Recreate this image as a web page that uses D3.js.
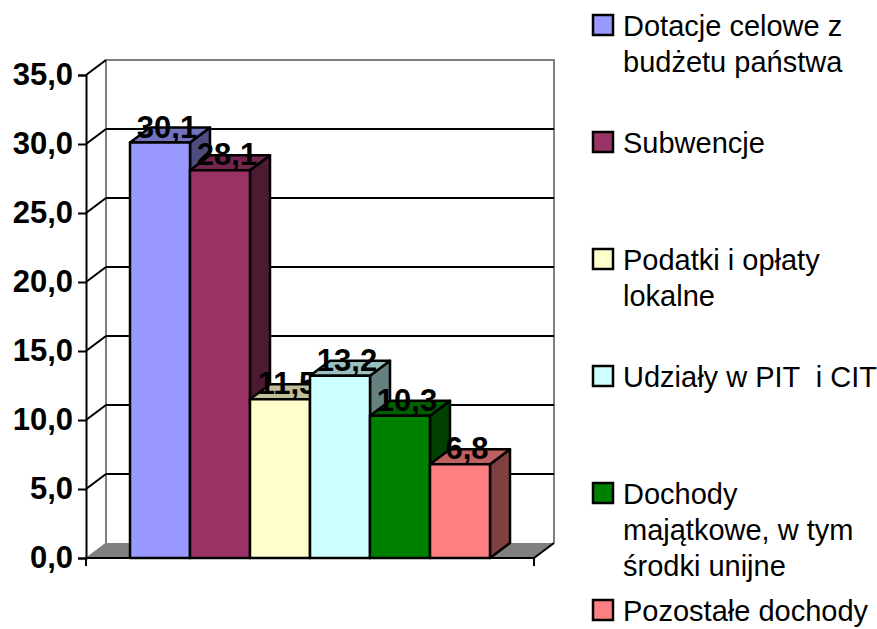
<!DOCTYPE html>
<html>
<head>
<meta charset="utf-8">
<script src="https://cdn.jsdelivr.net/npm/d3@7"></script>
<style>
  body { margin: 0; background: #fff; }
  svg { display: block; font-family: "Liberation Sans", Arial, sans-serif; }
</style>
</head>
<body>
<div id="chart"></div>
<script>
// Data
const categories = [
    "Dotacje celowe z\nbudżetu państwa",
    "Subwencje",
    "Podatki i opłaty\nlokalne",
    "Udziały w PIT  i CIT",
    "Dochody\nmajątkowe, w tym\nśrodki unijne",
    "Pozostałe dochody"
];
const values = [30.1, 28.1, 11.5, 13.2, 10.3, 6.8];
const yTicks = [0, 5, 10, 15, 20, 25, 30, 35];

// front / top / side colours of each bar
const frontColors = ["#9999ff", "#993366", "#ffffcc", "#ccffff", "#008000", "#ff8080"];
const topColors   = ["#7373bf", "#73264d", "#bfbf99", "#99bfbf", "#006000", "#bf6060"];
const sideColors  = ["#4d4d80", "#4d1a33", "#808066", "#668080", "#004000", "#804040"];

const width = 877, height = 629;
const fmt = v => d3.format(".1f")(v).replace(".", ",");
const boldSize = 31;

// Plot geometry
const plotLeft = 86, plotRight = 534, plotBottom = 558, plotTop = 75;
const dx = 20, dy = -15;   // 3D depth offset

const svg = d3.select("#chart").append("svg")
    .attr("width", width)
    .attr("height", height);

const y = d3.scaleLinear([0, 35], [plotBottom, plotTop]);
const x = d3.scaleBand(d3.range(values.length), [plotLeft + 44, plotRight - 44]);

// Floor
svg.append("polygon")
    .attr("points", [[plotLeft, plotBottom], [plotLeft + dx, plotBottom + dy],
                     [plotRight + dx, plotBottom + dy], [plotRight, plotBottom]].join(" "))
    .attr("fill", "#808080");

// Walls (gray edges)
const wall = svg.append("g").attr("stroke", "#808080").attr("stroke-width", 2).attr("fill", "none");
wall.append("path").attr("d", `M${plotLeft + dx},${plotBottom + dy}V${y(35) + dy}H${plotRight + dx}V${plotBottom + dy}`);
wall.append("line")
    .attr("x1", plotLeft).attr("y1", plotBottom).attr("x2", plotLeft + dx).attr("y2", plotBottom + dy)
    .attr("stroke-width", 1);

// Gridlines on the back wall + slanted ticks on the side wall
const grid = svg.append("g").attr("stroke", "#000").attr("stroke-width", 2);
grid.selectAll("line.grid")
    .data(yTicks.filter(t => t > 0 && t < 35))
    .join("line")
    .attr("class", "grid")
    .attr("x1", plotLeft + dx).attr("x2", plotRight + dx)
    .attr("y1", d => y(d) + dy).attr("y2", d => y(d) + dy);
grid.selectAll("line.slant")
    .data(yTicks.filter(t => t > 0))
    .join("line")
    .attr("class", "slant")
    .attr("x1", plotLeft).attr("y1", d => y(d))
    .attr("x2", plotLeft + dx).attr("y2", d => y(d) + dy);

// Floor right edge
svg.append("line")
    .attr("x1", plotRight).attr("y1", plotBottom).attr("x2", plotRight + dx).attr("y2", plotBottom + dy)
    .attr("stroke", "#000").attr("stroke-width", 2);

// Y axis
const axisY = svg.append("g")
    .attr("transform", `translate(${plotLeft},0)`)
    .call(d3.axisLeft(y).tickValues(yTicks).tickFormat(fmt).tickSizeOuter(0).tickSize(8).tickPadding(5));
axisY.select(".domain").attr("stroke", "#000").attr("stroke-width", 2);
axisY.selectAll(".tick line").attr("stroke", "#000").attr("stroke-width", 2);
axisY.selectAll(".tick text")
    .attr("font-family", "'Liberation Sans', Arial, sans-serif")
    .attr("font-size", boldSize).attr("font-weight", "bold").attr("fill", "#000");

// X axis (front floor edge)
const axisX = svg.append("g").attr("stroke", "#000").attr("stroke-width", 2);
axisX.append("line").attr("x1", plotLeft - 1).attr("x2", plotRight).attr("y1", plotBottom).attr("y2", plotBottom);
axisX.append("line").attr("x1", plotLeft).attr("x2", plotLeft).attr("y1", plotBottom).attr("y2", plotBottom + 8);
axisX.append("line").attr("x1", plotRight).attr("x2", plotRight).attr("y1", plotBottom).attr("y2", plotBottom + 8);

// Bars (each drawn fully before the next, labels included)
const bw = x.bandwidth();
values.forEach((v, i) => {
    const xl = x(i), xr = x(i) + bw, yt = y(v);
    const g = svg.append("g").attr("stroke", "#000").attr("stroke-width", 2.5).attr("stroke-linejoin", "round");
    g.append("polygon")
        .attr("points", [[xr, yt], [xr + dx, yt + dy], [xr + dx, plotBottom + dy], [xr, plotBottom]].join(" "))
        .attr("fill", sideColors[i]);
    g.append("polygon")
        .attr("points", [[xl, yt], [xl + dx, yt + dy], [xr + dx, yt + dy], [xr, yt]].join(" "))
        .attr("fill", topColors[i]);
    g.append("rect")
        .attr("x", xl).attr("y", yt)
        .attr("width", bw).attr("height", plotBottom - yt)
        .attr("fill", frontColors[i]);
    svg.append("text")
        .attr("x", xl + bw / 2 + 7)
        .attr("y", yt - 5)
        .attr("text-anchor", "middle")
        .attr("font-size", boldSize).attr("font-weight", "bold")
        .text(fmt(v));
});

// Legend
const legend = svg.append("g");
const entry = legend.selectAll("g")
    .data(categories)
    .join("g")
    .attr("transform", (d, i) => `translate(593,${36 + i * 117})`);
entry.append("rect")
    .attr("x", 0).attr("y", -21)
    .attr("width", 20).attr("height", 20)
    .attr("fill", (d, i) => frontColors[i])
    .attr("stroke", "#000").attr("stroke-width", 2.5);
entry.append("text")
    .attr("font-size", 29)
    .style("white-space", "pre")
    .selectAll("tspan")
    .data(d => d.split("\n"))
    .join("tspan")
    .attr("x", 30)
    .attr("y", (d, j) => j * 36)
    .text(d => d);
</script>
</body>
</html>
